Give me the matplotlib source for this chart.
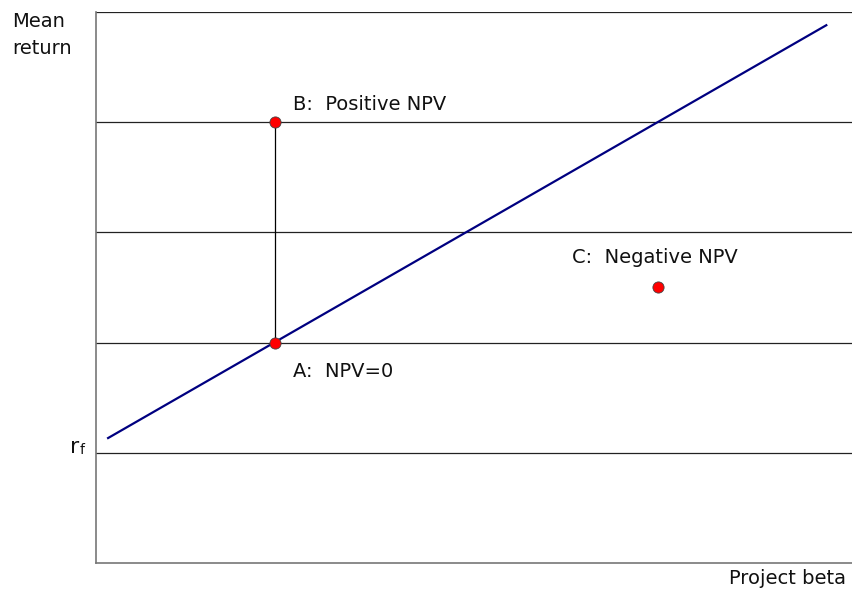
import matplotlib.pyplot as plt

plt.rcParams['font.family'] = ['DejaVu Sans']

# levels of the horizontal lines (rf, A, C-ish, B, top)
grid_levels = [1, 2, 3, 4, 5]
rf = 1

# security market line end points
sml_x = [0.16, 9.66]
sml_y = [1.134, 4.88]

# projects
proj_names = ["A", "B", "C"]
proj_x = [2.37, 2.37, 7.43]
proj_y = [2.0, 4.0, 2.5]
proj_labels = ["A:  NPV=0", "B:  Positive NPV", "C:  Negative NPV"]

fs = 14

fig = plt.figure(figsize=(8.52, 5.90), dpi=100)
ax = fig.add_axes([96 / 852, 27 / 590, 756 / 852, 551 / 590])
ax.set_xlim(0, 10)
ax.set_ylim(0, 5)

for lv in grid_levels:
    ax.axhline(lv, color="#222222", lw=0.9, zorder=1)

ax.plot(sml_x, sml_y, color="#000080", lw=1.6, zorder=2)

# vertical line from A to B
ax.plot([proj_x[0], proj_x[1]], [proj_y[0], proj_y[1]], color="black", lw=0.9, zorder=2)

ax.scatter(proj_x, proj_y, s=65, color="red", edgecolors="#444444",
           linewidths=0.6, zorder=3)

offsets = {"A": (0.24, -0.26), "B": (0.24, 0.16), "C": (-1.13, 0.27)}
for name, x, y, lab in zip(proj_names, proj_x, proj_y, proj_labels):
    dx, dy = offsets[name]
    ax.text(x + dx, y + dy, lab, fontsize=fs, ha="left", va="center", color="#111111")

ax.set_xticks([])
ax.set_yticks([])
ax.spines["right"].set_visible(False)
ax.spines["top"].set_visible(False)
ax.spines["left"].set_color("#777777")
ax.spines["bottom"].set_color("#777777")
ax.spines["left"].set_linewidth(1.2)
ax.spines["bottom"].set_linewidth(1.2)

fig.text(12 / 852, 1 - 35 / 590, "Mean\nreturn", fontsize=fs, ha="left", va="center",
         linespacing=1.55, color="#111111")
ax.text(-0.34, rf - 0.04, "r", fontsize=16, ha="left", va="bottom", color="#111111")
ax.text(-0.21, rf - 0.04, "f", fontsize=10, ha="left", va="bottom", color="#111111")
fig.text(846 / 852, 1 - 578 / 590, "Project beta", fontsize=fs, ha="right", va="center",
         color="#111111")

fig.savefig("out.png", dpi=100)
